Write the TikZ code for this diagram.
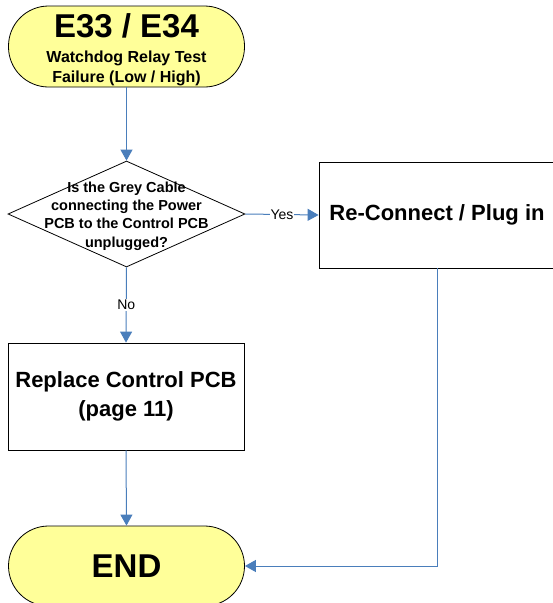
\documentclass[tikz,border=0pt]{standalone}
\usepackage{fontspec}
\setmainfont{Liberation Sans}
\usetikzlibrary{shapes.geometric,arrows.meta}
\definecolor{termfill}{RGB}{255,255,153}
\definecolor{flowblue}{RGB}{74,126,187}
\tikzset{
  terminal/.style={draw=black, line width=0.8pt, fill=termfill, rounded corners=40pt,
    minimum width=236pt, minimum height=81pt, inner sep=0pt, align=center,
    font=\bfseries},
  procbox/.style={draw=black, line width=0.8pt, fill=white, minimum width=236pt,
    minimum height=106pt, inner sep=0pt, align=center,
    font=\bfseries\fontsize{22}{29}\selectfont},
  decision/.style={draw=black, line width=0.8pt, diamond, minimum width=237pt,
    minimum height=106pt, inner sep=0pt},
  flow/.style={draw=flowblue, line width=1pt, -{Triangle[width=12pt,length=11pt]}},
  branch/.style={fill=white, inner sep=1pt, font=\fontsize{14}{16}\selectfont},
}
\begin{document}
\begin{tikzpicture}[x=1pt,y=1pt]
  \useasboundingbox (0,0) rectangle (553,-603);

  % start terminal
  \node[terminal, font=\bfseries\fontsize{16}{20}\selectfont] (start) at (126.5,-46.5)
    {\rule{0pt}{30pt}{\fontsize{33}{33}\selectfont E33 / E34}\\[5pt]
     Watchdog Relay Test\\
     Failure (Low / High)};

  % decision
  \node[decision] (q) at (126.5,-214) {};
  \node[align=center, inner sep=0pt, font=\bfseries\fontsize{14.5}{18.3}\selectfont]
    (qtext) at (126.5,-216)
    {Is the Grey Cable\\connecting the Power\\PCB to the Control PCB\\unplugged?};

  % process boxes
  \node[procbox] (plug) at (437,-215) {Re-Connect / Plug in};
  \node[procbox, minimum height=107pt] (fix) at (126,-396.5)
    {Replace Control PCB\\(page 11)};

  % end terminal
  \node[terminal, minimum height=80pt, font=\bfseries\fontsize{33}{33}\selectfont]
    (finish) at (126.5,-566) {END};

  % connectors
  \draw[flow] (start.south) -- (q.north);
  \draw[flow] (q.east) -- node[branch] {Yes} (plug.west);
  \draw[flow] (q.south) -- node[branch] {No} (fix.north);
  \draw[flow] (fix.south) -- (finish.north);
  \draw[flow] (plug.south) |- (finish.east);
\end{tikzpicture}
\end{document}
